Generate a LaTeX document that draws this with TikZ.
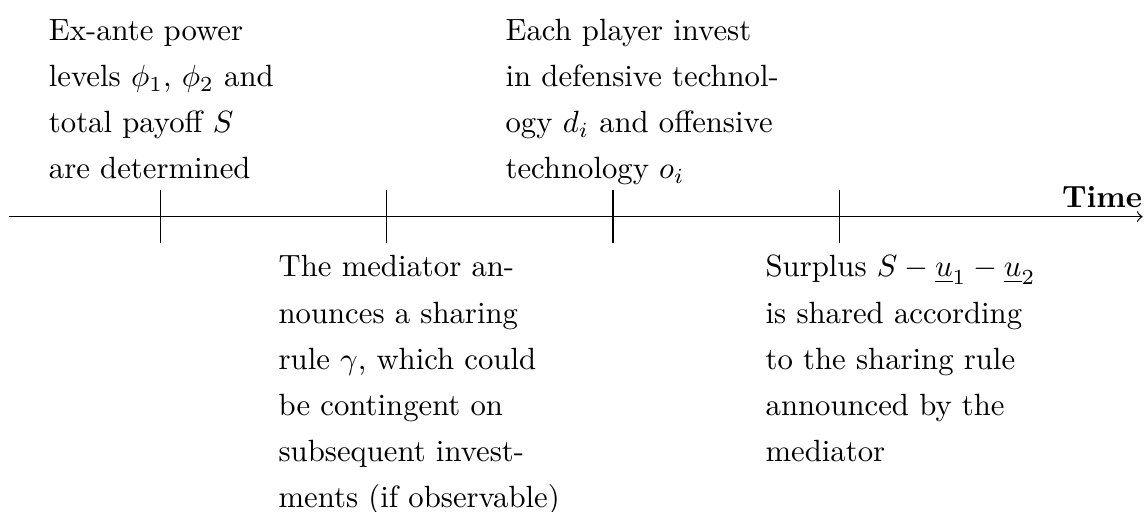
\documentclass[tikz,border=0pt]{standalone}
\usepackage{tikz}

\begin{document}
\begin{tikzpicture}[
    event/.style={anchor=base west, inner sep=0pt, text width=3.6cm, align=left,
                  font=\linespread{1.25}\selectfont}]
    \useasboundingbox (-0.103,-3.379) rectangle (12.986,2.479);

    \coordinate (S) at (0,0);
    \coordinate (E) at (12.97,0);
    \draw (S) edge[->] (E);
    \node (TIME) at (12.97, 0.11) [anchor=base east, inner sep=0pt] {\textbf{Time}};

    %-----

    \coordinate (T1a) at (1.73, 0.3);
    \coordinate (T1b) at (1.73,-0.3);
    \coordinate (T2a) at (4.32, 0.3);
    \coordinate (T2b) at (4.32,-0.3);
    \coordinate (T3a) at (6.91, 0.3);
    \coordinate (T3b) at (6.91,-0.3);
    \coordinate (T4a) at (9.50, 0.3);
    \coordinate (T4b) at (9.50,-0.3);

    \draw (T1a) edge[-] (T1b);
    \draw (T2a) edge[-] (T2b);
    \draw (T3a) edge[-] (T3b);
    \draw (T4a) edge[-] (T4b);

    %-----

    \node (EA) at (0.45, 2.014) [event] {Ex-ante power\\ levels $\phi_1$, $\phi_2$ and\\ total payoff $S$\\ are determined};
    \node (MR) at (3.078,-0.69) [event] {The mediator an-\\ nounces a sharing\\ rule $\gamma$, which could\\ be contingent on\\ subsequent invest-\\ ments (if observable)};
    \node (IN) at (5.675, 2.014) [event] {Each player invest\\ in defensive technol-\\ ogy $d_i$ and offensive\\ technology $o_i$};
    \node (SH) at (8.65,-0.69) [event] {Surplus $S-\underline{u}_1-\underline{u}_2$\\ is shared according\\ to the sharing rule\\ announced by the\\ mediator};
\end{tikzpicture}
\end{document}
